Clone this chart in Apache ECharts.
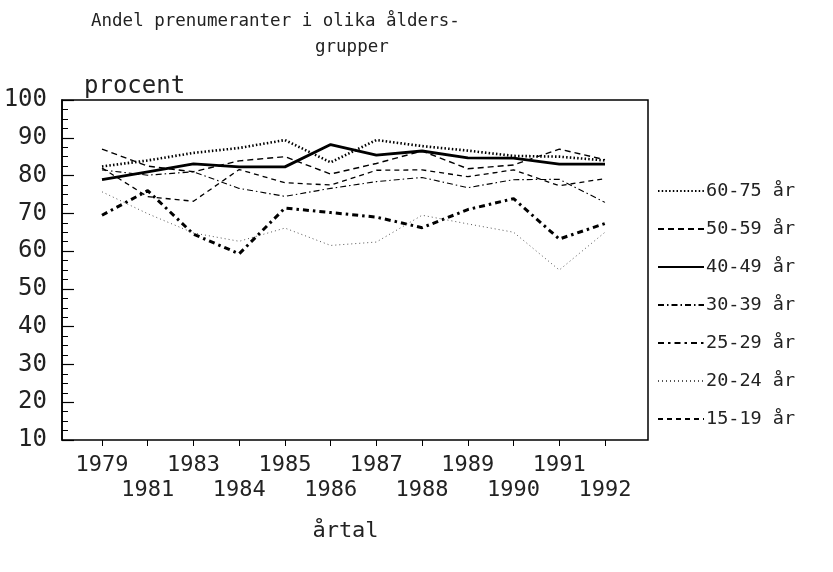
<!DOCTYPE html>
<html lang="sv">
<head>
<meta charset="UTF-8">
<title>Andel prenumeranter</title>
<script src="https://cdn.jsdelivr.net/npm/echarts@6/dist/echarts.min.js"></script>
<style>
  html, body { margin: 0; padding: 0; background: #fff; }
  #chart { width: 833px; height: 572px; }
</style>
</head>
<body>
<div id="chart"></div>
<script>
var years = ['1979', '1981', '1983', '1984', '1985', '1986', '1987', '1988', '1989', '1990', '1991', '1992'];
var names = ['60-75 år', '50-59 år', '40-49 år', '30-39 år', '25-29 år', '20-24 år', '15-19 år'];

var age60_75 = [82.4, 84.0, 86.0, 87.3, 89.4, 83.5, 89.4, 87.8, 86.6, 85.2, 85.0, 84.0];
var age50_59 = [87.0, 82.5, 81.0, 83.9, 85.0, 80.4, 83.2, 86.5, 81.8, 82.8, 87.0, 84.2];
var age40_49 = [78.9, 81.0, 83.1, 82.3, 82.3, 88.2, 85.4, 86.5, 84.7, 84.6, 83.0, 83.0];
var age30_39 = [81.5, 80.1, 81.0, 76.6, 74.5, 76.6, 78.4, 79.5, 76.8, 78.9, 79.0, 72.9];
var age25_29 = [69.5, 76.0, 64.5, 59.3, 71.4, 70.2, 69.0, 66.2, 71.0, 73.9, 63.2, 67.3];
var age20_24 = [75.7, 69.9, 64.8, 62.6, 66.1, 61.5, 62.4, 69.5, 67.2, 65.0, 55.0, 65.0];
var age15_19 = [82.0, 74.4, 73.2, 81.6, 78.1, 77.5, 81.4, 81.5, 79.7, 81.5, 77.3, 79.2];

var yTicks = [10, 20, 30, 40, 50, 60, 70, 80, 90, 100];

var font = '"DejaVu Sans Mono", "Liberation Mono", monospace';
var ink = '#222';

var styles = [
  { width: 2.6, type: [1.5, 2.2] },
  { width: 1.4, type: [6, 4] },
  { width: 2.8, type: 'solid' },
  { width: 1.1, type: [6, 3, 1.5, 3] },
  { width: 3, type: [6, 4, 2.5, 4] },
  { width: 1, type: [1, 3], color: '#555' },
  { width: 1.3, type: [5, 4] }
];
var data = [age60_75, age50_59, age40_49, age30_39, age25_29, age20_24, age15_19];

var chart = echarts.init(document.getElementById('chart'), null, { renderer: 'canvas' });

var series = names.map(function (n, i) {
  return {
    name: n,
    type: 'line',
    xAxisIndex: 1,
    yAxisIndex: 1,
    symbol: 'none',
    data: data[i],
    lineStyle: { color: styles[i].color || '#000', width: styles[i].width, type: styles[i].type },
    itemStyle: { color: styles[i].color || '#000' }
  };
});

var option = {
  animation: false,
  backgroundColor: '#fff',
  title: [
    { text: 'Andel prenumeranter i olika ålders-', left: 86, top: 7,
      textStyle: { fontFamily: font, fontSize: 17.5, fontWeight: 'normal', color: ink } },
    { text: 'grupper', left: 310, top: 33,
      textStyle: { fontFamily: font, fontSize: 17.5, fontWeight: 'normal', color: ink } }
  ],
  legend: {
    orient: 'vertical',
    left: 652,
    top: 176,
    itemWidth: 46,
    itemHeight: 20,
    itemGap: 18,
    data: names,
    itemStyle: { opacity: 0 },
    textStyle: { fontFamily: font, fontSize: 18.5, color: ink, lineHeight: 20, padding: [0, 0, 0, -3] }
  },
  grid: [
    { left: 62, right: 185, top: 100, bottom: 132, show: true, borderColor: '#000', borderWidth: 1.5 },
    { left: 102, right: 228, top: 100, bottom: 132 }
  ],
  xAxis: [
    { gridIndex: 0, type: 'value', min: 0, max: 1, show: false },
    {
      gridIndex: 1,
      type: 'category',
      boundaryGap: false,
      data: years,
      name: 'årtal',
      nameLocation: 'middle',
      nameGap: 80,
      nameTextStyle: { fontFamily: font, fontSize: 22, color: ink, padding: [0, 16, 0, 0] },
      axisLine: { show: false },
      axisTick: { show: true, length: 6, alignWithLabel: true, lineStyle: { color: '#000' } },
      axisLabel: {
        interval: 0,
        margin: 13,
        fontFamily: font,
        fontSize: 22,
        lineHeight: 25,
        color: ink,
        formatter: function (v, i) { return i % 2 === 1 ? '\n' + v : v; }
      },
      splitLine: { show: false }
    }
  ],
  yAxis: [
    {
      gridIndex: 0,
      type: 'value',
      min: yTicks[0],
      max: yTicks[yTicks.length - 1],
      interval: 10,
      name: 'procent',
      nameLocation: 'end',
      nameGap: 1,
      nameTextStyle: { fontFamily: font, fontSize: 24, color: ink, align: 'left', padding: [0, 0, 0, 22] },
      axisLine: { show: true, lineStyle: { color: '#000', width: 1.5 } },
      axisTick: { show: true, inside: true, length: 12, lineStyle: { color: '#000', width: 1.2 } },
      minorTick: { show: true, splitNumber: 4, length: 6, lineStyle: { color: '#000', width: 1 } },
      axisLabel: { margin: 15, fontFamily: font, fontSize: 24, color: ink },
      splitLine: { show: false }
    },
    {
      gridIndex: 1,
      type: 'value',
      min: yTicks[0],
      max: yTicks[yTicks.length - 1],
      show: false
    }
  ],
  series: series
};

chart.setOption(option);
</script>
</body>
</html>
